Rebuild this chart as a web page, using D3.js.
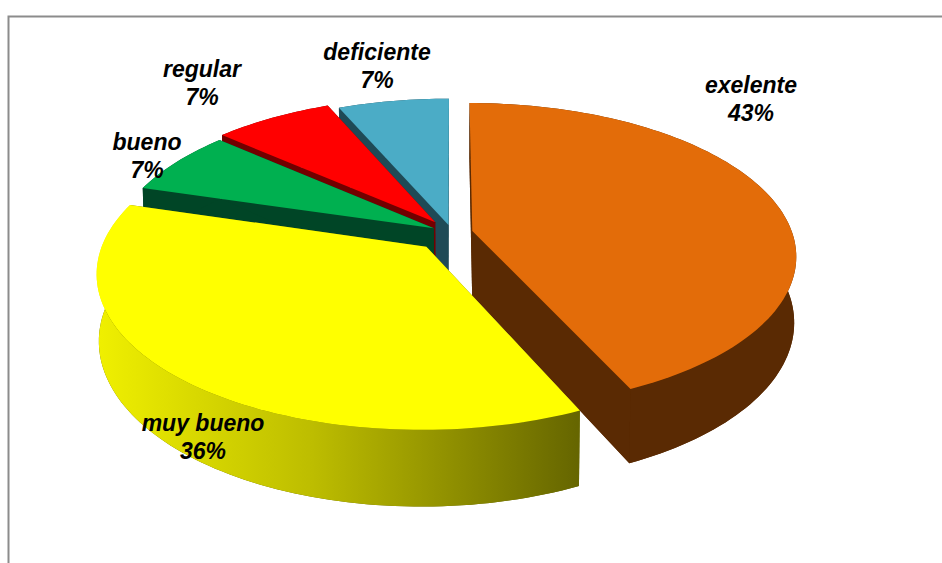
<!DOCTYPE html>
<html><head><meta charset="utf-8">
<script src="https://cdn.jsdelivr.net/npm/d3@7/dist/d3.min.js"></script>
<style>html,body{margin:0;padding:0;background:#fff;overflow:hidden}svg{display:block}
text{font-family:"Liberation Sans",Arial,sans-serif;font-weight:bold;font-style:italic;font-size:23px;fill:#000;text-anchor:middle}</style>
</head><body><svg id="c" width="942" height="563"></svg>
<script>
const categories=["exelente","muy bueno","bueno","regular","deficiente"];
const percentages=[43.2,36.4,6.9,7,6.5];
const topColors=["#E36C09","#FFFF00","#00B050","#FF0000","#4BACC6"];
const sideColors=["#5A2A03","#666600","#004526","#720000","#1F4A56"];
const explosion=[0.065,0.12,0.065,0.09,0.055];
const labelX=[751,203,147,202,377];
const labelY=[93,431,150,77,60];
const drawOrder=[4,3,2,0,1];

const cx=452,cy=233;
const k=320,kq=149,p=0.16,s=0.006,depth=65;
const svg=d3.select("#c");
svg.append("path").attr("d",`M8.5,563V16.5H942`).attr("fill","none").attr("stroke","#8c8c8c").attr("stroke-width",2);

const defs=svg.append("defs");
const grad=defs.append("linearGradient").attr("id","wallYellow").attr("gradientUnits","userSpaceOnUse")
  .attr("x1",96).attr("x2",577).attr("y1",0).attr("y2",0);
grad.append("stop").attr("offset",0).attr("stop-color","#F0F000");
grad.append("stop").attr("offset",0.45).attr("stop-color","#BDBD00");
grad.append("stop").attr("offset",1).attr("stop-color","#666600");

const project=(X,Y,z)=>{
  const w=1+p*Y+s*z;
  return [cx+k*X/w, cy+(-kq*Y+depth*z)/w];
};
const pie=d3.pie().sort(null).value(d=>d)(percentages);
const line=d3.line();
const rim=(a0,a1,off,z)=>{
  const n=Math.max(8,Math.ceil((a1-a0)*40));
  return d3.range(n+1).map(i=>{
    const a=a0+(a1-a0)*i/n;
    return project(Math.sin(a)+off[0],Math.cos(a)+off[1],z);
  });
};
const g=svg.append("g");
drawOrder.forEach(i=>{
  const d=pie[i],mid=(d.startAngle+d.endAngle)/2;
  const off=[explosion[i]*Math.sin(mid),explosion[i]*Math.cos(mid)];
  const apex=z=>project(off[0],off[1],z);
  const slice=g.append("g").attr("class","slice");
  const side=sideColors[i];
  slice.append("path").attr("d",line([apex(1),...rim(d.startAngle,d.endAngle,off,1)])+"Z").attr("fill",side);
  [d.startAngle,d.endAngle].forEach(a=>{
    const top=rim(a,a,off,0)[0],bot=rim(a,a,off,1)[0];
    slice.append("path").attr("d",line([apex(0),top,bot,apex(1)])+"Z").attr("fill",side);
  });
  const t=rim(d.startAngle,d.endAngle,off,0),b=rim(d.startAngle,d.endAngle,off,1);
  slice.append("path").attr("d",line([...t,...b.reverse()])+"Z").attr("fill",i===1?"url(#wallYellow)":side);
  slice.append("path").attr("d",line([apex(0),...t])+"Z").attr("fill",topColors[i]);
});
const labels=svg.append("g");
categories.forEach((c,i)=>{
  const t=labels.append("text").attr("x",labelX[i]).attr("y",labelY[i]);
  t.append("tspan").attr("x",labelX[i]).text(c);
  t.append("tspan").attr("x",labelX[i]).attr("dy",28).text(Math.round(percentages[i])+"%");
});
</script></body></html>
